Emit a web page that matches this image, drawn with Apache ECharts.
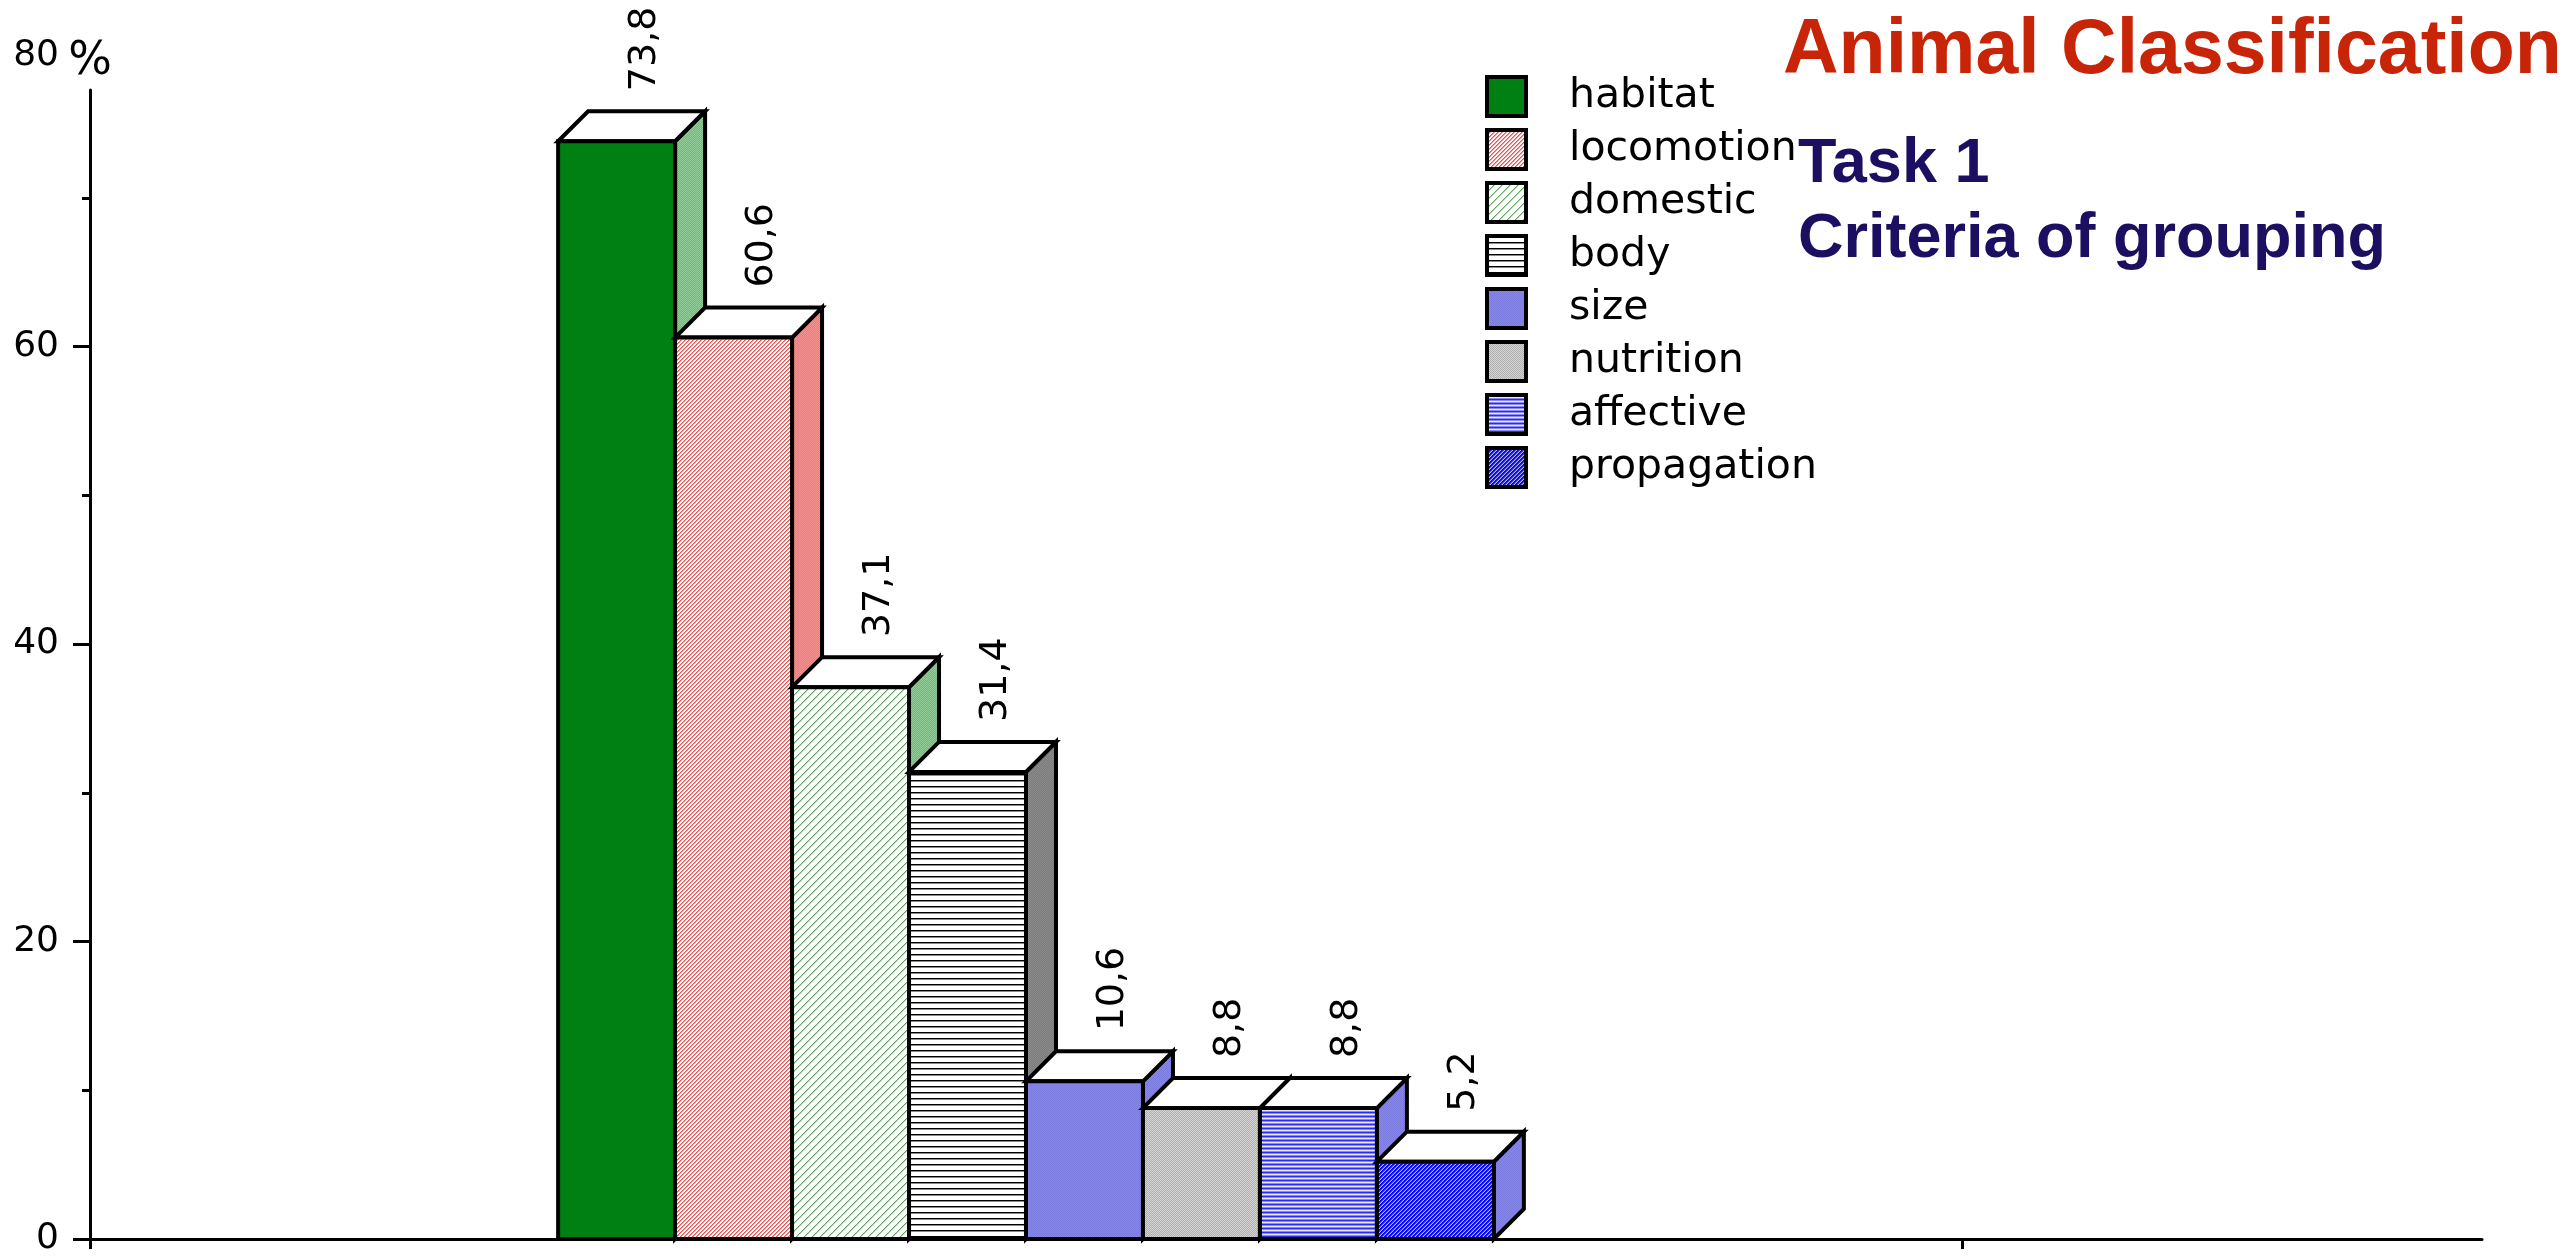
<!DOCTYPE html>
<html>
<head>
<meta charset="utf-8">
<title>Animal Classification</title>
<script src="https://cdn.jsdelivr.net/npm/echarts@6/dist/echarts.min.js"></script>
<style>
  html, body { margin: 0; padding: 0; background: #ffffff; }
  #chart { width: 2569px; height: 1258px; }
</style>
</head>
<body>
<div id="chart"></div>
<script>
// Grouping criteria and the share (%) of answers using each one
const groupName = 'Task 1';
const criteria = ['habitat', 'locomotion', 'domestic', 'body', 'size', 'nutrition', 'affective', 'propagation'];
const shares = [73.8, 60.6, 37.1, 31.4, 10.6, 8.8, 8.8, 5.2];
const yTicks = [0, 20, 40, 60];

// Layout of the bar block inside the single category band
const GROUP_START = 0.1957;   // fraction of the band before the first bar
const BAR_FRAC = 0.0489;      // width of one bar as a fraction of the band
const DEPTH = 30;             // 3D depth offset in px
const X_SPLIT = 0.7826;       // position of the lower axis tick

// --- fill patterns -------------------------------------------------------
function makeCanvas(w, h, paint) {
  const c = document.createElement('canvas');
  c.width = w; c.height = h;
  const g = c.getContext('2d');
  paint(g, w, h);
  return { image: c, repeat: 'repeat' };
}
function solid(color) { return color; }
function diagonal(bg, rows, period) {
  // "/" hatching: rows[k] is the colour of the k-th pixel along the period
  return makeCanvas(period * 4, period * 4, (g, w, h) => {
    g.fillStyle = bg; g.fillRect(0, 0, w, h);
    for (let y = 0; y < h; y++) {
      for (let x = 0; x < w; x++) {
        const k = (x + y) % period;
        if (rows[k]) { g.fillStyle = rows[k]; g.fillRect(x, y, 1, 1); }
      }
    }
  });
}
function horizontal(rows) {
  return makeCanvas(8, rows.length, (g, w) => {
    rows.forEach((c, y) => { g.fillStyle = c; g.fillRect(0, y, w, 1); });
  });
}
function checker(a, b) {
  return makeCanvas(2, 2, g => {
    g.fillStyle = a; g.fillRect(0, 0, 2, 2);
    g.fillStyle = b; g.fillRect(0, 0, 1, 1); g.fillRect(1, 1, 1, 1);
  });
}

const frontFills = [
  solid('#007f13'),
  diagonal('#ffffff', ['#ee5050', '#f49a9a', null, null], 4),
  diagonal('#ffffff', ['#5aa85a', '#b8dcb8', null, null, null, null, null, null], 8),
  horizontal(['#000000', '#8a8a8a', '#ffffff', '#ffffff', '#ffffff', '#ffffff']),
  checker('#8585ec', '#7b7be0'),
  checker('#b0b0b0', '#d4d4d4'),
  horizontal(['#2a2af0', '#8a8af0', '#e6e6ff', '#8a8af0']),
  diagonal('#ffffff', ['#0000e0', '#1414f0', '#4848ff', '#b8b8ff'], 4)
];
const sideFills = [
  checker('#72b87c', '#92cc98'),
  checker('#ee7c7c', '#f49090'),
  checker('#72b87c', '#92cc98'),
  checker('#7a7a7a', '#8c8c8c'),
  checker('#8585ec', '#7b7be0'),
  checker('#9a9a9a', '#b0b0b0'),
  checker('#8585ec', '#7b7be0'),
  checker('#8585ec', '#7b7be0')
];

const edge = { stroke: '#000000', lineWidth: 4, lineJoin: 'miter' };

function renderBar(params, api) {
  const i = params.seriesIndex;
  const v = api.value(1);
  const base = api.coord([api.value(0), 0]);
  const top = api.coord([api.value(0), v]);
  const band = api.size([1, 0])[0];
  const w = band * BAR_FRAC;
  const x0 = base[0] - band / 2 + band * GROUP_START + i * w;
  const x1 = x0 + w;
  const y0 = base[1];
  const y1 = top[1];
  const d = DEPTH;
  const label = v.toFixed(1).replace('.', ',');
  return {
    type: 'group',
    children: [
      {
        type: 'polygon',
        shape: { points: [[x1, y1], [x1 + d, y1 - d], [x1 + d, y0 - d], [x1, y0]] },
        style: Object.assign({ fill: sideFills[i] }, edge)
      },
      {
        type: 'polygon',
        shape: { points: [[x0, y1], [x0 + d, y1 - d], [x1 + d, y1 - d], [x1, y1]] },
        style: Object.assign({ fill: '#ffffff' }, edge)
      },
      {
        type: 'rect',
        shape: { x: x0, y: y1, width: w, height: y0 - y1 },
        style: Object.assign({ fill: frontFills[i] }, edge)
      },
      {
        type: 'text',
        x: (x0 + x1 + d) / 2 + 14,
        y: y1 - d - 20,
        rotation: Math.PI / 2,
        style: {
          text: label,
          font: '38px "DejaVu Sans"',
          fill: '#000000',
          align: 'left',
          verticalAlign: 'middle'
        }
      }
    ]
  };
}

const series = criteria.map((name, i) => ({
  name: name,
  type: 'custom',
  xAxisIndex: 0,
  yAxisIndex: 0,
  renderItem: renderBar,
  itemStyle: { color: frontFills[i], borderColor: '#000', borderWidth: 4 },
  encode: { x: 0, y: 1 },
  data: [[0, shares[i]]],
  animation: false
}));

const chart = echarts.init(document.getElementById('chart'), null, { renderer: 'canvas' });
chart.setOption({
  backgroundColor: '#ffffff',
  animation: false,
  title: [
    {
      text: 'Animal Classification',
      left: 1778, top: 8,
      textStyle: { fontFamily: '"Liberation Sans", Arial, sans-serif', fontWeight: 'bold', fontSize: 77, lineHeight: 78, color: '#c82408' }
    },
    {
      text: 'Task 1\nCriteria of grouping',
      left: 1793, top: 122,
      textStyle: { fontFamily: '"Liberation Sans", Arial, sans-serif', fontWeight: 'bold', fontSize: 63, lineHeight: 75, color: '#1c0e60' }
    }
  ],
  legend: {
    orient: 'vertical',
    left: 1480, top: 70,
    icon: 'rect',
    itemWidth: 39, itemHeight: 39, itemGap: 10,
    selectedMode: false,
    textStyle: { fontFamily: '"DejaVu Sans"', fontSize: 41, lineHeight: 39, color: '#000000', padding: [0, 0, 0, 38] },
    data: criteria.map((n, i) => ({ name: n, itemStyle: { color: frontFills[i], borderColor: '#000', borderWidth: 4 } }))
  },
  grid: [
    { left: 90, right: 87, top: 49, bottom: 19, outerBoundsMode: 'none' },
    { left: 90, width: 1, top: 90, bottom: 19, outerBoundsMode: 'none' }
  ],
  xAxis: [
    {
      type: 'category', gridIndex: 0, data: [groupName],
      axisLine: { show: true, lineStyle: { color: '#000000', width: 3 } },
      axisTick: { show: false }, axisLabel: { show: false }, splitLine: { show: false }
    },
    {
      type: 'value', gridIndex: 0, position: 'bottom', offset: 0, min: 0, max: 1,
      axisLine: { show: false }, axisLabel: { show: false }, splitLine: { show: false },
      axisTick: { show: true, customValues: [0, X_SPLIT], length: 10, lineStyle: { color: '#000000', width: 3 } }
    },
    { type: 'value', gridIndex: 1, show: false }
  ],
  yAxis: [
    {
      type: 'value', gridIndex: 0, min: 0, max: 80, interval: 20,
      name: '%', nameLocation: 'end', nameGap: -13,
      nameTextStyle: { fontFamily: '"DejaVu Sans"', fontSize: 46, color: '#000000', align: 'center', verticalAlign: 'middle' },
      axisLine: { show: false },
      axisTick: { show: true, customValues: yTicks, length: 17, lineStyle: { color: '#000000', width: 3 } },
      minorTick: { show: true, splitNumber: 2, length: 8, lineStyle: { color: '#000000', width: 3 } },
      axisLabel: {
        fontFamily: '"DejaVu Sans"', fontSize: 36, color: '#000000', margin: 31,
        formatter: v => (v === 80 ? '{hi|80}' : String(v)),
        rich: { hi: { fontFamily: '"DejaVu Sans"', fontSize: 36, color: '#000000', padding: [14, 0, 0, 0] } }
      },
      splitLine: { show: false }
    },
    {
      type: 'value', gridIndex: 1,
      axisLine: { show: true, lineStyle: { color: '#000000', width: 3 } },
      axisTick: { show: false }, axisLabel: { show: false }, splitLine: { show: false }
    }
  ],
  series: series
});
</script>
</body>
</html>
